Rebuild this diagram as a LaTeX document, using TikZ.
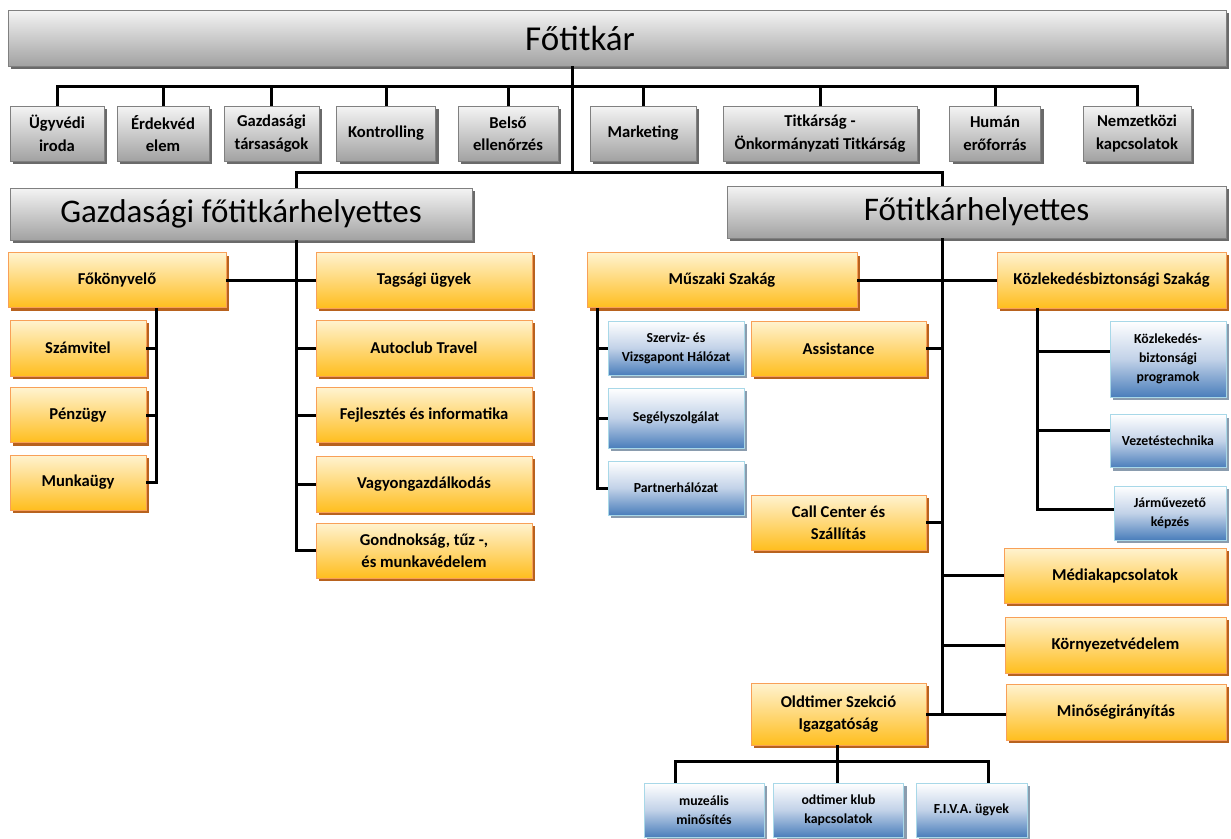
\documentclass[tikz,border=0pt]{standalone}
\usepackage{fontspec}
\setmainfont{Carlito}
\usetikzlibrary{shadows}
\definecolor{gtop}{HTML}{F4F4F4}
\definecolor{gbot}{HTML}{A2A2A2}
\definecolor{gbor}{HTML}{808080}
\definecolor{gsh}{HTML}{6A6A6A}
\definecolor{otop}{HTML}{FFF3D0}
\definecolor{omid}{HTML}{FFD878}
\definecolor{obot}{HTML}{FFBE1E}
\definecolor{obor}{HTML}{F8A058}
\definecolor{osh}{HTML}{B8621E}
\definecolor{bmid}{HTML}{C2D2E8}
\definecolor{bbot}{HTML}{4A7EBB}
\definecolor{bbor}{HTML}{A8D8E8}
\definecolor{bsh}{HTML}{8A9CAE}
\tikzset{
  box/.style={draw, line width=0.9pt, inner sep=2pt, align=center, text=black},
  gbox/.style={box, draw=gbor, top color=gtop, bottom color=gbot,
    drop shadow={shadow xshift=3pt, shadow yshift=-3pt, fill=gsh, opacity=1}},
  obox/.style={box, draw=obor, top color=otop, bottom color=obot, middle color=omid,
    drop shadow={shadow xshift=3pt, shadow yshift=-3pt, fill=osh, opacity=1},
    font=\fontsize{16.6}{22}\selectfont\bfseries},
  bbox/.style={box, draw=bbor, top color=white, bottom color=bbot, middle color=bmid,
    drop shadow={shadow xshift=3pt, shadow yshift=-3pt, fill=bsh, opacity=1},
    font=\fontsize{13.8}{19}\selectfont\bfseries},
  gsmall/.style={gbox, minimum height=55pt, font=\fontsize{16.6}{22.5}\selectfont\bfseries},
  bigtitle/.style={font=\fontsize{33}{38}\selectfont},
  conn/.style={draw=black, line width=3pt},
}
\begin{document}
\begin{tikzpicture}[x=1pt,y=-1pt]
\useasboundingbox (0,0) rectangle (1231,838);
\fill[white] (0,0) rectangle (1231,838);
% top
\node[gbox, minimum width=1218pt, minimum height=56pt] (fot) at (617,38) {};
\node[font=\fontsize{35}{40}\selectfont] (fott) at (580,38) {Főtitkár};
% staff row
\node[gsmall, minimum width=94pt] (b1) at (57,133.5) {Ügyvédi\\iroda};
\node[gsmall, minimum width=92pt] (b2) at (163,133.5) {Érdekvéd\\elem};
\node[gsmall, minimum width=95pt] (b3) at (271.5,133.5) {Gazdasági\\társaságok};
\node[gsmall, minimum width=99pt] (b4) at (386,133.5) {Kontrolling};
\node[gsmall, minimum width=100pt] (b5) at (508,133.5) {Belső\\ellenőrzés};
\node[gsmall, minimum width=106pt] (b6) at (643,133.5) {Marketing};
\node[gsmall, minimum width=194pt] (b7) at (820,133.5) {Titkárság -\\Önkormányzati Titkárság};
\node[gsmall, minimum width=91pt] (b8) at (995,133.5) {Humán\\erőforrás};
\node[gsmall, minimum width=108pt] (b9) at (1137,133.5) {Nemzetközi\\kapcsolatok};
% deputies
\node[gbox, bigtitle, minimum width=462pt, minimum height=52pt] (gfh) at (241,214) {Gazdasági főtitkárhelyettes};
\node[gbox, bigtitle, minimum width=499pt, minimum height=52pt] (fh) at (976.5,212) {Főtitkárhelyettes};
% left side
\node[obox, minimum width=218pt, minimum height=55pt] (fok) at (117,280) {Főkönyvelő};
\node[obox, minimum width=216pt, minimum height=56pt] (tag) at (424,280) {Tagsági ügyek};
\node[obox, minimum width=216pt, minimum height=56pt] (auto) at (424,348) {Autoclub Travel};
\node[obox, minimum width=216pt, minimum height=55pt] (fej) at (424,415) {Fejlesztés és informatika};
\node[obox, minimum width=216pt, minimum height=56pt] (vag) at (424,484) {Vagyongazdálkodás};
\node[obox, minimum width=216pt, minimum height=55pt] (gond) at (424,550.5) {Gondnokság, tűz -,\\és munkavédelem};
\node[obox, minimum width=136pt, minimum height=56pt] (szam) at (78,348) {Számvitel};
\node[obox, minimum width=136pt, minimum height=55pt] (penz) at (78,415) {Pénzügy};
\node[obox, minimum width=136pt, minimum height=55pt] (munk) at (78,482.5) {Munkaügy};
% right side
\node[obox, minimum width=270pt, minimum height=55pt] (mus) at (722,280) {Műszaki Szakág};
\node[obox, minimum width=229pt, minimum height=56pt] (koz) at (1111.5,280) {Közlekedésbiztonsági Szakág};
\node[bbox, minimum width=136pt, minimum height=54pt] (szv) at (676,348) {Szerviz- és\\Vizsgapont Hálózat};
\node[bbox, minimum width=136pt, minimum height=60pt] (seg) at (676,418) {Segélyszolgálat};
\node[bbox, minimum width=136pt, minimum height=54pt] (par) at (676,488) {Partnerhálózat};
\node[obox, minimum width=175pt, minimum height=55pt] (ass) at (838.5,348.5) {Assistance};
\node[obox, minimum width=175pt, minimum height=55pt] (cc) at (838.5,522.5) {Call Center és\\Szállítás};
\node[bbox, minimum width=116pt, minimum height=76pt] (kbp) at (1168,359) {Közlekedés-\\biztonsági\\programok};
\node[bbox, minimum width=116pt, minimum height=53pt] (vez) at (1168,441) {Vezetéstechnika};
\node[bbox, minimum width=112pt, minimum height=54pt] (jar) at (1170,513) {Járművezető\\képzés};
\node[obox, minimum width=222pt, minimum height=55pt] (med) at (1115,575.5) {Médiakapcsolatok};
\node[obox, minimum width=221pt, minimum height=56pt] (kor) at (1115.5,645) {Környezetvédelem};
\node[obox, minimum width=220pt, minimum height=56pt] (min) at (1116,712) {Minőségirányítás};
\node[obox, minimum width=175pt, minimum height=62pt] (old) at (838.5,714) {Oldtimer Szekció\\Igazgatóság};
\node[bbox, minimum width=120pt, minimum height=54pt] (muz) at (704,810) {muzeális\\minősítés};
\node[bbox, minimum width=130pt, minimum height=54pt] (odt) at (838.5,810) {odtimer klub\\kapcsolatok};
\node[bbox, minimum width=111pt, minimum height=54pt] (fiva) at (971.5,810) {F.I.V.A. ügyek};
% junction coordinates
\coordinate (j1) at (572,86);
\coordinate (t1) at (572,172);
\coordinate (gl) at (296,172);
\coordinate (fl) at (942,172);
\coordinate (lv) at (156,482);
\coordinate (mv) at (597,488);
\coordinate (kv) at (1037,508);
\coordinate (oj) at (837,761);
\coordinate (oa) at (675,761);
\coordinate (oc) at (988,761);
% connectors
\draw[conn] (fot.south -| j1) -- (t1);
\draw[conn] (b1.north) -- (b1.north |- j1) -- (b9.north |- j1) -- (b9.north);
\foreach \n in {b2,b3,b4,b5,b6,b7,b8} \draw[conn] (\n.north) -- (\n.north |- j1);
\draw[conn] (gl |- gfh.north) -- (gl) -- (fl) -- (fl |- fh.north);
% left
\draw[conn] (gfh.south -| gl) -- (gond.west -| gl) -- (gond.west);
\foreach \n in {auto,fej,vag} \draw[conn] (\n.west -| gl) -- (\n.west);
\draw[conn] (fok.east) -- (tag.west);
\draw[conn] (fok.south -| lv) -- (munk.east -| lv) -- (munk.east);
\foreach \n in {szam,penz} \draw[conn] (\n.east) -- (\n.east -| lv);
% right
\draw[conn] (fh.south -| fl) -- (old.east -| fl);
\draw[conn] (old.east) -- (old.east -| min.west);
\foreach \n in {ass,cc} \draw[conn] (\n.east) -- (\n.east -| fl);
\foreach \n in {med,kor} \draw[conn] (\n.west -| fl) -- (\n.west);
\draw[conn] (mus.east) -- (koz.west);
\draw[conn] (mus.south -| mv) -- (par.west -| mv) -- (par.west);
\foreach \n in {szv,seg} \draw[conn] (\n.west -| mv) -- (\n.west);
\draw[conn] (koz.south -| kv) -- ([yshift=4pt]jar.west -| kv) -- ([yshift=4pt]jar.west);
\draw[conn] ([yshift=8pt]kbp.west -| kv) -- ([yshift=8pt]kbp.west);
\draw[conn] ([yshift=11pt]vez.west -| kv) -- ([yshift=11pt]vez.west);
% oldtimer
\draw[conn] (old.south -| oj) -- (oj);
\draw[conn] (oa |- muz.north) -- (oa) -- (oc) -- (oc |- fiva.north);
\draw[conn] (oj) -- (oj |- odt.north);
\end{tikzpicture}
\end{document}
